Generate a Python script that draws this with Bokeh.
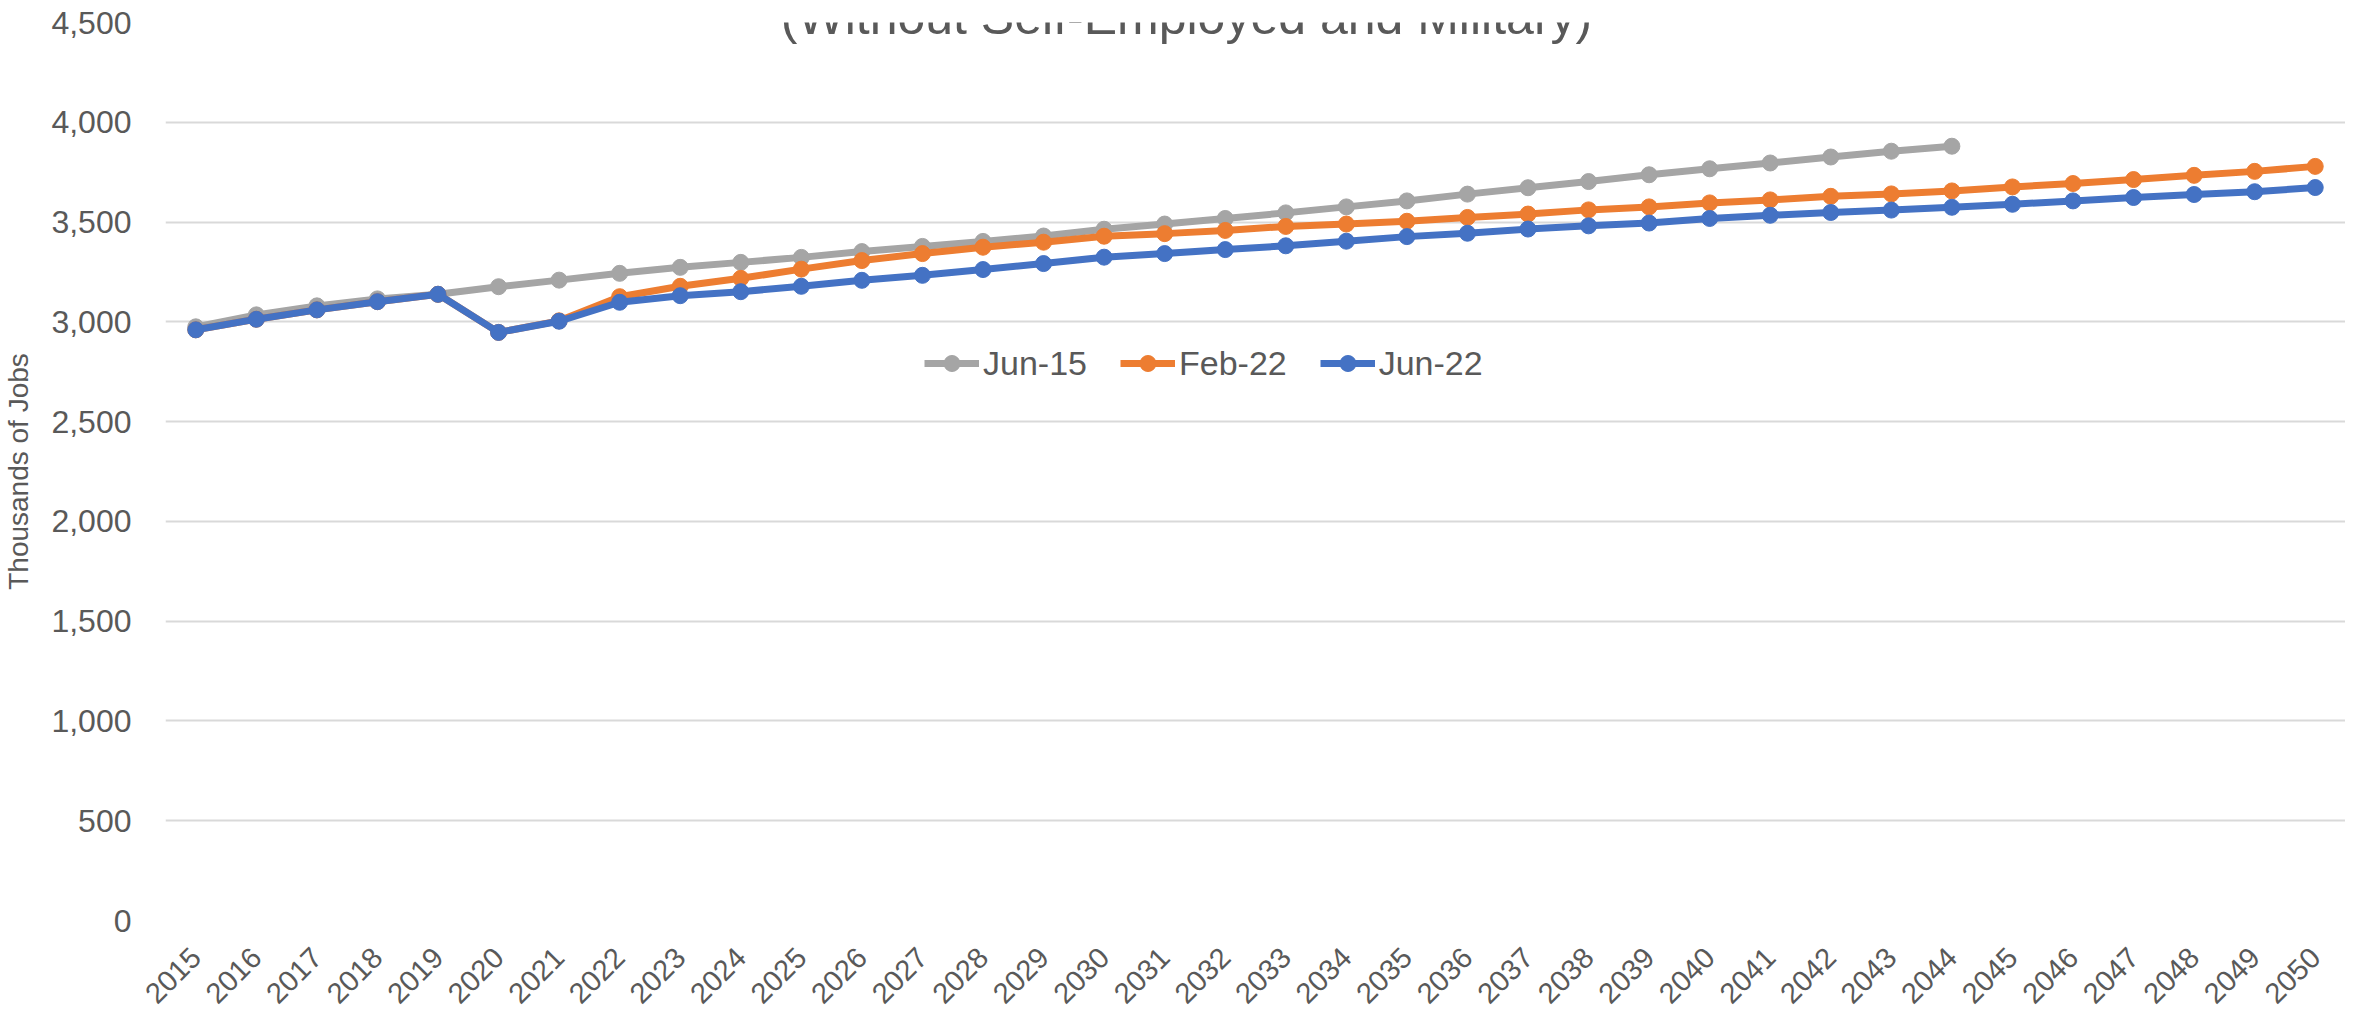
import math
from bokeh.plotting import figure
from bokeh.models import (FactorRange, Range1d, FixedTicker, NumeralTickFormatter,
                          Legend, LegendItem, Label)
from bokeh.embed import file_html
from bokeh.resources import INLINE

years = [str(y) for y in range(2015, 2051)]

jun15_years = [str(y) for y in range(2015, 2045)]
jun15 = [2975, 3035, 3080, 3115, 3138, 3176, 3209, 3243, 3273, 3298,
         3323, 3352, 3378, 3403, 3430, 3464, 3490, 3518, 3546, 3576,
         3606, 3640, 3672, 3703, 3737, 3767, 3796, 3826, 3855, 3880]

feb22 = [2960, 3013, 3060, 3101, 3138, 2947, 3005, 3126, 3178, 3218,
         3264, 3307, 3342, 3374, 3399, 3429, 3442, 3458, 3478, 3490,
         3504, 3523, 3540, 3561, 3576, 3596, 3611, 3629, 3641, 3656,
         3676, 3693, 3713, 3734, 3754, 3779]

jun22 = [2960, 3013, 3060, 3101, 3138, 2947, 3003, 3098, 3131, 3151,
         3178, 3208, 3233, 3262, 3292, 3324, 3342, 3362, 3381, 3404,
         3427, 3444, 3465, 3481, 3495, 3518, 3534, 3548, 3560, 3574,
         3589, 3606, 3623, 3638, 3652, 3673]

y_ticks = list(range(0, 4501, 500))
title_text = "(Without Self-Employed and Military)"
y_title = "Thousands of Jobs"

TXT = "#595959"
FONT = "Liberation Sans"

p = figure(width=2345, height=1015, x_range=FactorRange(*years),
           y_range=Range1d(0, 4500), output_backend="svg",
           toolbar_location=None, min_border_left=153, min_border_right=0,
           min_border_top=22, min_border_bottom=91)
p.x_range.range_padding = 0
p.outline_line_color = None
p.background_fill_color = "white"
p.border_fill_color = "white"

p.xgrid.grid_line_color = None
p.ygrid.grid_line_color = "#D9D9D9"
p.ygrid.grid_line_width = 2

p.yaxis.ticker = FixedTicker(ticks=y_ticks)
p.yaxis.formatter = NumeralTickFormatter(format="0,0")
for ax in (p.xaxis[0], p.yaxis[0]):
    ax.axis_line_color = None
    ax.major_tick_line_color = None
    ax.minor_tick_line_color = None
    ax.major_label_text_color = TXT
    ax.major_label_text_font = FONT
p.yaxis.major_label_text_font_size = "32px"
p.yaxis.major_label_standoff = 28
p.yaxis.axis_label = y_title
p.yaxis.axis_label_text_font = FONT
p.yaxis.axis_label_text_font_size = "28px"
p.yaxis.axis_label_text_font_style = "normal"
p.yaxis.axis_label_text_color = TXT
p.yaxis.axis_label_standoff = 14

p.xaxis.major_label_orientation = math.pi / 4
p.xaxis.major_label_text_font_size = "29px"
p.xaxis.major_label_standoff = 26

series = [
    ("Jun-15", jun15_years, jun15, "#A5A5A5"),
    ("Feb-22", years, feb22, "#ED7D31"),
    ("Jun-22", years, jun22, "#4472C4"),
]
items = []
for name, xs, ys, col in series:
    lr = p.line(xs, ys, line_color=col, line_width=7)
    cr = p.scatter(xs, ys, size=16, fill_color=col, line_color=col)
    items.append(LegendItem(label=name, renderers=[lr, cr]))

legend = Legend(items=items, orientation="horizontal", location=(759, 537),
                padding=0, margin=0, spacing=33, label_standoff=4,
                glyph_width=55, glyph_height=40, label_height=40,
                border_line_color=None, background_fill_alpha=0,
                label_text_font=FONT, label_text_font_size="34px",
                label_text_color=TXT)
p.add_layout(legend, "center")

title = Label(x=1021, y=904, x_units="screen", y_units="screen",
              text=title_text, text_align="center", text_baseline="alphabetic",
              text_font=FONT, text_font_size="50px", text_color=TXT)
p.add_layout(title)

open("out.html", "w").write(file_html(p, INLINE))
